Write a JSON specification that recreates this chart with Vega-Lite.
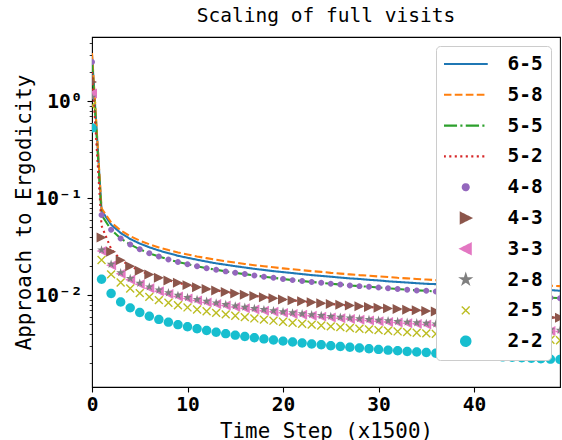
{
  "$schema": "https://vega.github.io/schema/vega-lite/v6.json",
  "width": 468,
  "height": 350,
  "autosize": "none",
  "padding": {"left": 92, "top": 37, "right": 2, "bottom": 53},
  "background": "white",
  "title": {
    "text": "Scaling of full visits",
    "font": "DejaVu Sans Mono",
    "fontSize": 19.5,
    "fontWeight": "normal",
    "color": "black",
    "anchor": "middle",
    "offset": 6
  },
  "config": {
    "view": {"stroke": "black", "strokeWidth": 1.1},
    "axis": {
      "grid": false,
      "domain": false,
      "tickColor": "black",
      "labelColor": "black",
      "titleColor": "black",
      "labelFont": "DejaVu Sans Mono",
      "labelFontWeight": "bold",
      "labelFontSize": 19.5,
      "titleFont": "DejaVu Sans Mono",
      "titleFontWeight": "normal",
      "titleFontSize": 20.8,
      "labelFlush": false,
      "labelOverlap": false
    }
  },
  "data": {
    "values": [
      {"t": 0, "6-5": 3.0, "5-8": 3.15, "5-5": 2.6, "5-2": 2.0, "4-8": 2.54, "4-3": 1.58, "3-3": 1.2, "2-8": 1.1, "2-5": 0.9, "2-2": 0.53},
      {"t": 1, "6-5": 0.075, "5-8": 0.0785, "5-5": 0.0673, "5-2": 0.052, "4-8": 0.0673, "4-3": 0.0393, "3-3": 0.0285, "2-8": 0.0293, "2-5": 0.0231, "2-2": 0.0146},
      {"t": 2, "6-5": 0.0534, "5-8": 0.0565, "5-5": 0.0473, "5-2": 0.030, "4-8": 0.0473, "4-3": 0.0280, "3-3": 0.0203, "2-8": 0.0209, "2-5": 0.0164, "2-2": 0.0104},
      {"t": 3, "6-5": 0.0438, "5-8": 0.0466, "5-5": 0.0385, "5-2": 0.0232, "4-8": 0.0385, "4-3": 0.0229, "3-3": 0.0166, "2-8": 0.0171, "2-5": 0.0135, "2-2": 0.00852},
      {"t": 4, "6-5": 0.0380, "5-8": 0.0406, "5-5": 0.0333, "5-2": 0.0199, "4-8": 0.0333, "4-3": 0.0199, "3-3": 0.0144, "2-8": 0.0149, "2-5": 0.0117, "2-2": 0.0074},
      {"t": 5, "6-5": 0.0341, "5-8": 0.0365, "5-5": 0.0297, "5-2": 0.0179, "4-8": 0.0297, "4-3": 0.0179, "3-3": 0.0130, "2-8": 0.0133, "2-5": 0.0105, "2-2": 0.00664},
      {"t": 6, "6-5": 0.0312, "5-8": 0.0335, "5-5": 0.0271, "5-2": 0.0163, "4-8": 0.0271, "4-3": 0.0163, "3-3": 0.0118, "2-8": 0.0122, "2-5": 0.0096, "2-2": 0.00607},
      {"t": 7, "6-5": 0.0289, "5-8": 0.0311, "5-5": 0.0250, "5-2": 0.0151, "4-8": 0.0250, "4-3": 0.0151, "3-3": 0.0110, "2-8": 0.0113, "2-5": 0.0089, "2-2": 0.00563},
      {"t": 8, "6-5": 0.0271, "5-8": 0.0292, "5-5": 0.0234, "5-2": 0.0142, "4-8": 0.0234, "4-3": 0.0142, "3-3": 0.0103, "2-8": 0.0106, "2-5": 0.00834, "2-2": 0.00527},
      {"t": 9, "6-5": 0.0255, "5-8": 0.0276, "5-5": 0.0220, "5-2": 0.0134, "4-8": 0.0220, "4-3": 0.0134, "3-3": 0.00971, "2-8": 0.00998, "2-5": 0.00787, "2-2": 0.00497},
      {"t": 10, "6-5": 0.0243, "5-8": 0.0263, "5-5": 0.0209, "5-2": 0.0127, "4-8": 0.0209, "4-3": 0.0127, "3-3": 0.00922, "2-8": 0.00948, "2-5": 0.00748, "2-2": 0.00472},
      {"t": 11, "6-5": 0.0232, "5-8": 0.0251, "5-5": 0.0199, "5-2": 0.0121, "4-8": 0.0199, "4-3": 0.0121, "3-3": 0.0088, "2-8": 0.00905, "2-5": 0.00713, "2-2": 0.00451},
      {"t": 12, "6-5": 0.0222, "5-8": 0.0241, "5-5": 0.0190, "5-2": 0.0116, "4-8": 0.0190, "4-3": 0.0116, "3-3": 0.00843, "2-8": 0.00867, "2-5": 0.00684, "2-2": 0.00432},
      {"t": 13, "6-5": 0.0213, "5-8": 0.0232, "5-5": 0.0183, "5-2": 0.0112, "4-8": 0.0183, "4-3": 0.0112, "3-3": 0.00811, "2-8": 0.00834, "2-5": 0.00657, "2-2": 0.00415},
      {"t": 14, "6-5": 0.0206, "5-8": 0.0224, "5-5": 0.0176, "5-2": 0.0108, "4-8": 0.0176, "4-3": 0.0108, "3-3": 0.00782, "2-8": 0.00804, "2-5": 0.00634, "2-2": 0.00401},
      {"t": 15, "6-5": 0.0199, "5-8": 0.0217, "5-5": 0.0170, "5-2": 0.0104, "4-8": 0.0170, "4-3": 0.0104, "3-3": 0.00756, "2-8": 0.00777, "2-5": 0.00613, "2-2": 0.00387},
      {"t": 16, "6-5": 0.0193, "5-8": 0.0210, "5-5": 0.0165, "5-2": 0.0101, "4-8": 0.0165, "4-3": 0.0101, "3-3": 0.00732, "2-8": 0.00753, "2-5": 0.00594, "2-2": 0.00375},
      {"t": 17, "6-5": 0.0187, "5-8": 0.0204, "5-5": 0.0160, "5-2": 0.00981, "4-8": 0.0160, "4-3": 0.00981, "3-3": 0.00711, "2-8": 0.00731, "2-5": 0.00576, "2-2": 0.00364},
      {"t": 18, "6-5": 0.0182, "5-8": 0.0199, "5-5": 0.0155, "5-2": 0.00953, "4-8": 0.0155, "4-3": 0.00953, "3-3": 0.00691, "2-8": 0.00711, "2-5": 0.0056, "2-2": 0.00354},
      {"t": 19, "6-5": 0.0177, "5-8": 0.0194, "5-5": 0.0151, "5-2": 0.00928, "4-8": 0.0151, "4-3": 0.00928, "3-3": 0.00673, "2-8": 0.00692, "2-5": 0.00546, "2-2": 0.00345},
      {"t": 20, "6-5": 0.0173, "5-8": 0.0189, "5-5": 0.0147, "5-2": 0.00905, "4-8": 0.0147, "4-3": 0.00905, "3-3": 0.00657, "2-8": 0.00675, "2-5": 0.00532, "2-2": 0.00336},
      {"t": 21, "6-5": 0.0169, "5-8": 0.0185, "5-5": 0.0143, "5-2": 0.00884, "4-8": 0.0143, "4-3": 0.00884, "3-3": 0.00641, "2-8": 0.00659, "2-5": 0.0052, "2-2": 0.00329},
      {"t": 22, "6-5": 0.0165, "5-8": 0.0181, "5-5": 0.0140, "5-2": 0.00864, "4-8": 0.0140, "4-3": 0.00864, "3-3": 0.00627, "2-8": 0.00644, "2-5": 0.00508, "2-2": 0.00321},
      {"t": 23, "6-5": 0.0161, "5-8": 0.0177, "5-5": 0.0137, "5-2": 0.00846, "4-8": 0.0137, "4-3": 0.00846, "3-3": 0.00613, "2-8": 0.00631, "2-5": 0.00497, "2-2": 0.00314},
      {"t": 24, "6-5": 0.0158, "5-8": 0.0174, "5-5": 0.0134, "5-2": 0.00828, "4-8": 0.0134, "4-3": 0.00828, "3-3": 0.00601, "2-8": 0.00618, "2-5": 0.00487, "2-2": 0.00308},
      {"t": 25, "6-5": 0.0155, "5-8": 0.0170, "5-5": 0.0131, "5-2": 0.00812, "4-8": 0.0131, "4-3": 0.00812, "3-3": 0.00589, "2-8": 0.00605, "2-5": 0.00477, "2-2": 0.00301},
      {"t": 26, "6-5": 0.0152, "5-8": 0.0167, "5-5": 0.0129, "5-2": 0.00796, "4-8": 0.0129, "4-3": 0.00796, "3-3": 0.00577, "2-8": 0.00594, "2-5": 0.00468, "2-2": 0.00296},
      {"t": 27, "6-5": 0.0149, "5-8": 0.0164, "5-5": 0.0126, "5-2": 0.00782, "4-8": 0.0126, "4-3": 0.00782, "3-3": 0.00567, "2-8": 0.00583, "2-5": 0.00459, "2-2": 0.0029},
      {"t": 28, "6-5": 0.0147, "5-8": 0.0161, "5-5": 0.0124, "5-2": 0.00768, "4-8": 0.0124, "4-3": 0.00768, "3-3": 0.00557, "2-8": 0.00573, "2-5": 0.00451, "2-2": 0.00285},
      {"t": 29, "6-5": 0.0144, "5-8": 0.0159, "5-5": 0.0122, "5-2": 0.00755, "4-8": 0.0122, "4-3": 0.00755, "3-3": 0.00547, "2-8": 0.00563, "2-5": 0.00444, "2-2": 0.0028},
      {"t": 30, "6-5": 0.0142, "5-8": 0.0156, "5-5": 0.0120, "5-2": 0.00742, "4-8": 0.0120, "4-3": 0.00742, "3-3": 0.00538, "2-8": 0.00553, "2-5": 0.00436, "2-2": 0.00276},
      {"t": 31, "6-5": 0.0139, "5-8": 0.0154, "5-5": 0.0118, "5-2": 0.00731, "4-8": 0.0118, "4-3": 0.00731, "3-3": 0.0053, "2-8": 0.00545, "2-5": 0.00429, "2-2": 0.00271},
      {"t": 32, "6-5": 0.0137, "5-8": 0.0151, "5-5": 0.0116, "5-2": 0.00719, "4-8": 0.0116, "4-3": 0.00719, "3-3": 0.00522, "2-8": 0.00536, "2-5": 0.00423, "2-2": 0.00267},
      {"t": 33, "6-5": 0.0135, "5-8": 0.0149, "5-5": 0.0114, "5-2": 0.00709, "4-8": 0.0114, "4-3": 0.00709, "3-3": 0.00514, "2-8": 0.00528, "2-5": 0.00416, "2-2": 0.00263},
      {"t": 34, "6-5": 0.0133, "5-8": 0.0147, "5-5": 0.0112, "5-2": 0.00698, "4-8": 0.0112, "4-3": 0.00698, "3-3": 0.00506, "2-8": 0.00521, "2-5": 0.0041, "2-2": 0.00259},
      {"t": 35, "6-5": 0.0131, "5-8": 0.0145, "5-5": 0.0111, "5-2": 0.00688, "4-8": 0.0111, "4-3": 0.00688, "3-3": 0.00499, "2-8": 0.00513, "2-5": 0.00404, "2-2": 0.00256},
      {"t": 36, "6-5": 0.0130, "5-8": 0.0143, "5-5": 0.0109, "5-2": 0.00679, "4-8": 0.0109, "4-3": 0.00679, "3-3": 0.00492, "2-8": 0.00506, "2-5": 0.00399, "2-2": 0.00252},
      {"t": 37, "6-5": 0.0128, "5-8": 0.0141, "5-5": 0.0108, "5-2": 0.0067, "4-8": 0.0108, "4-3": 0.0067, "3-3": 0.00486, "2-8": 0.005, "2-5": 0.00394, "2-2": 0.00249},
      {"t": 38, "6-5": 0.0126, "5-8": 0.0139, "5-5": 0.0106, "5-2": 0.00661, "4-8": 0.0106, "4-3": 0.00661, "3-3": 0.00479, "2-8": 0.00493, "2-5": 0.00389, "2-2": 0.00246},
      {"t": 39, "6-5": 0.0125, "5-8": 0.0138, "5-5": 0.0105, "5-2": 0.00653, "4-8": 0.0105, "4-3": 0.00653, "3-3": 0.00473, "2-8": 0.00487, "2-5": 0.00384, "2-2": 0.00243},
      {"t": 40, "6-5": 0.0123, "5-8": 0.0136, "5-5": 0.0103, "5-2": 0.00645, "4-8": 0.0103, "4-3": 0.00645, "3-3": 0.00468, "2-8": 0.00481, "2-5": 0.00379, "2-2": 0.0024},
      {"t": 41, "6-5": 0.0122, "5-8": 0.0135, "5-5": 0.0102, "5-2": 0.00637, "4-8": 0.0102, "4-3": 0.00637, "3-3": 0.00462, "2-8": 0.00475, "2-5": 0.00374, "2-2": 0.00237},
      {"t": 42, "6-5": 0.0120, "5-8": 0.0133, "5-5": 0.0101, "5-2": 0.0063, "4-8": 0.0101, "4-3": 0.0063, "3-3": 0.00457, "2-8": 0.00469, "2-5": 0.0037, "2-2": 0.00234},
      {"t": 43, "6-5": 0.0119, "5-8": 0.0132, "5-5": 0.00996, "5-2": 0.00623, "4-8": 0.00996, "4-3": 0.00623, "3-3": 0.00451, "2-8": 0.00464, "2-5": 0.00366, "2-2": 0.00231},
      {"t": 44, "6-5": 0.0117, "5-8": 0.0130, "5-5": 0.00984, "5-2": 0.00615, "4-8": 0.00984, "4-3": 0.00615, "3-3": 0.00446, "2-8": 0.00459, "2-5": 0.00362, "2-2": 0.00229},
      {"t": 45, "6-5": 0.0116, "5-8": 0.0129, "5-5": 0.00973, "5-2": 0.00609, "4-8": 0.00973, "4-3": 0.00609, "3-3": 0.00441, "2-8": 0.00454, "2-5": 0.00358, "2-2": 0.00226},
      {"t": 46, "6-5": 0.0115, "5-8": 0.0127, "5-5": 0.00962, "5-2": 0.00602, "4-8": 0.00962, "4-3": 0.00602, "3-3": 0.00437, "2-8": 0.00449, "2-5": 0.00354, "2-2": 0.00224},
      {"t": 47, "6-5": 0.0114, "5-8": 0.0126, "5-5": 0.00952, "5-2": 0.00596, "4-8": 0.00952, "4-3": 0.00596, "3-3": 0.00432, "2-8": 0.00444, "2-5": 0.0035, "2-2": 0.00221},
      {"t": 48, "6-5": 0.0113, "5-8": 0.0125, "5-5": 0.00942, "5-2": 0.0059, "4-8": 0.00942, "4-3": 0.0059, "3-3": 0.00428, "2-8": 0.0044, "2-5": 0.00347, "2-2": 0.00219},
      {"t": 49, "6-5": 0.0111, "5-8": 0.0124, "5-5": 0.00932, "5-2": 0.00584, "4-8": 0.00932, "4-3": 0.00584, "3-3": 0.00423, "2-8": 0.00435, "2-5": 0.00343, "2-2": 0.00217}
    ]
  },
  "transform": [
    {"fold": ["6-5", "5-8", "5-5", "5-2", "4-8", "4-3", "3-3", "2-8", "2-5", "2-2"], "as": ["series", "value"]}
  ],
  "encoding": {
    "x": {
      "field": "t",
      "type": "quantitative",
      "scale": {"domain": [0, 49], "nice": false, "zero": false},
      "axis": {
        "title": "Time Step (x1500)",
        "values": [0, 10, 20, 30, 40],
        "tickSize": 5,
        "tickWidth": 1.1,
        "labelPadding": 3.5,
        "titleY": 50,
        "titleBaseline": "alphabetic"
      }
    },
    "y": {
      "field": "value",
      "type": "quantitative",
      "scale": {"type": "log", "domain": [0.00113, 4.6], "nice": false},
      "axis": {
        "title": "Approach to Ergodicity",
        "values": [0.002, 0.003, 0.004, 0.005, 0.006, 0.007, 0.008, 0.009, 0.01, 0.02, 0.03, 0.04, 0.05, 0.06, 0.07, 0.08, 0.09, 0.1, 0.2, 0.3, 0.4, 0.5, 0.6, 0.7, 0.8, 0.9, 1, 2, 3, 4],
        "labelExpr": "datum.value == 1 ? '10⁰' : datum.value == 0.1 ? '10⁻¹' : datum.value == 0.01 ? '10⁻²' : ''",
        "tickSize": {"condition": {"test": "datum.value == 1 || datum.value == 0.1 || datum.value == 0.01", "value": 5}, "value": 2.8},
        "tickWidth": {"condition": {"test": "datum.value == 1 || datum.value == 0.1 || datum.value == 0.01", "value": 1.1}, "value": 0.8},
        "labelPadding": 5,
        "titleX": -62,
        "titleBaseline": "alphabetic"
      }
    },
    "color": {
      "field": "series",
      "type": "nominal",
      "scale": {
        "domain": ["6-5", "5-8", "5-5", "5-2", "4-8", "4-3", "3-3", "2-8", "2-5", "2-2"],
        "range": ["#1f77b4", "#ff7f0e", "#2ca02c", "#d62728", "#9467bd", "#8c564b", "#e377c2", "#7f7f7f", "#bcbd22", "#17becf"]
      },
      "legend": {
        "title": null,
        "orient": "top-right",
        "offset": 9,
        "padding": 8,
        "cornerRadius": 4,
        "strokeColor": "#cccccc",
        "fillColor": "white",
        "symbolSize": 1936,
        "symbolStrokeWidth": 2,
        "symbolOffset": 12,
        "labelFont": "DejaVu Sans Mono",
        "labelFontWeight": "bold",
        "labelFontSize": 19.5,
        "labelColor": "black",
        "labelOffset": 32,
        "clipHeight": 20,
        "rowPadding": 10.8,
        "encode": {
          "symbols": {
            "update": {
              "shape": {"signal": "scale('shape', datum.value)"},
              "size": {"value": 1936},
              "fill": {"signal": "indexof(['6-5','5-8','5-5','5-2','2-5'], datum.value) >= 0 ? 'transparent' : scale('color', datum.value)"},
              "stroke": {"signal": "indexof(['6-5','5-8','5-5','5-2','2-5'], datum.value) >= 0 ? scale('color', datum.value) : 'transparent'"},
              "strokeWidth": {"signal": "datum.value === '2-5' ? 1.4 : 2.08"},
              "strokeDash": {"signal": "scale('strokeDash', datum.value)"},
              "opacity": {"value": 1}
            }
          }
        }
      }
    }
  },
  "layer": [
    {
      "transform": [{"filter": {"field": "series", "oneOf": ["6-5", "5-8", "5-5", "5-2"]}}],
      "mark": {"type": "line", "strokeWidth": 2.08, "clip": true},
      "encoding": {
        "strokeDash": {
          "field": "series",
          "type": "nominal",
          "scale": {
            "domain": ["6-5", "5-8", "5-5", "5-2", "4-8", "4-3", "3-3", "2-8", "2-5", "2-2"],
            "range": [[1, 0], [7.7, 3.3], [13.3, 3.3, 2.1, 3.3], [2.1, 3.4], [1, 0], [1, 0], [1, 0], [1, 0], [1, 0], [1, 0]]
          },
          "legend": null
        }
      }
    },
    {
      "transform": [{"filter": {"field": "series", "oneOf": ["4-8", "4-3", "3-3", "2-8", "2-2"]}}],
      "mark": {"type": "point", "filled": true, "size": 1936, "opacity": 1, "clip": true},
      "encoding": {
        "shape": {
          "field": "series",
          "type": "nominal",
          "scale": {
            "domain": ["6-5", "5-8", "5-5", "5-2", "4-8", "4-3", "3-3", "2-8", "2-5", "2-2"],
            "range": [
              "M-1,0H1", "M-1,0H1", "M-1,0H1", "M-1,0H1",
              "M0.136,0A0.136,0.136 0 1,1 -0.136,0A0.136,0.136 0 1,1 0.136,0Z",
              "M0.227,0L-0.227,0.227L-0.227,-0.227Z",
              "M-0.227,0L0.227,-0.227L0.227,0.227Z",
              "M0,-0.21L0.047,-0.065L0.2,-0.065L0.076,0.025L0.123,0.17L0,0.08L-0.123,0.17L-0.076,0.025L-0.2,-0.065L-0.047,-0.065Z",
              "M-0.18,-0.18L0.18,0.18M-0.18,0.18L0.18,-0.18",
              "M0.214,0A0.214,0.214 0 1,1 -0.214,0A0.214,0.214 0 1,1 0.214,0Z"
            ]
          },
          "legend": null
        }
      }
    },
    {
      "transform": [{"filter": {"field": "series", "equal": "2-5"}}],
      "mark": {"type": "point", "filled": false, "size": 1936, "strokeWidth": 1.4, "opacity": 1, "clip": true},
      "encoding": {
        "shape": {"field": "series", "type": "nominal", "legend": null}
      }
    }
  ]
}
